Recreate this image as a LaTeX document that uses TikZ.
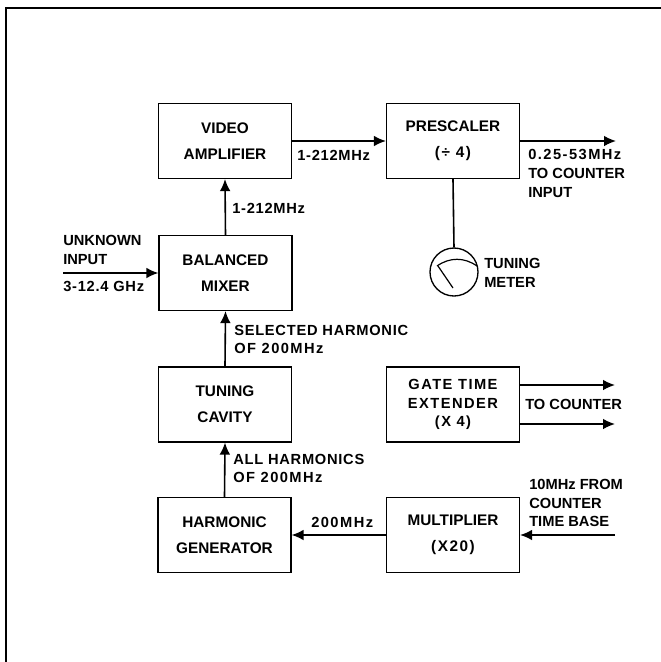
\documentclass[tikz,border=0pt]{standalone}
\usepackage{fontspec}
\setmainfont{Liberation Sans Bold}
\usetikzlibrary{arrows.meta}
\newcommand{\boxfont}{\fontsize{11.5}{19.5}\selectfont}
\newcommand{\labelfont}{\fontsize{11}{14}\selectfont}
\newcommand{\midfont}{\addfontfeature{LetterSpace=5}}
\newcommand{\widefont}{\addfontfeature{LetterSpace=10}}

\begin{document}
\begin{tikzpicture}[x=0.75pt, y=-0.75pt,
    block/.style={draw, line width=1.1pt, minimum width=99.5pt, minimum height=56pt, inner sep=0pt, align=center, font=\boxfont},
    note/.style={anchor=west, inner sep=0pt, align=left, font=\labelfont},
    signal/.style={line width=1.2pt, -{Latex[length=9pt, width=8pt]}}
]
  \useasboundingbox (0,0) rectangle (661,662);

  % Outer frame (only top and left survive)
  \coordinate (frametop) at (661,8);
  \coordinate (framecorner) at (6,8);
  \coordinate (framebottom) at (6,662);
  \draw[line width=1.4pt] (frametop) -- (framecorner) -- (framebottom);

  % Upper row
  \node[block] (video) at (225,141) {VIDEO\\AMPLIFIER};
  \node[block] (prescaler) at (453,141) {PRESCALER\\{\widefont(÷ 4)}};

  % Left column
  \node[block] (mixer) at (225.5,273) {BALANCED\\MIXER};
  \node[block] (cavity) at (225,404.5) {TUNING\\CAVITY};
  \node[block] (harmonic) at (224.5,535) {HARMONIC\\GENERATOR};

  % Right column
  \node[block, font=\labelfont\widefont] (gate) at (453,404.5) {GATE TIME\\EXTENDER\\(X 4)};
  \node[block] (multiplier) at (453,535) {MULTIPLIER\\{\widefont(X20)}};

  % Tuning meter
  \node[draw, circle, line width=1pt, minimum size=36pt, inner sep=0pt] (meter) at (454,272) {};
  \coordinate (needlefoot) at (453,288);
  \coordinate (needletip) at (438,266);
  \draw[line width=0.9pt] (needlefoot) -- (needletip);
  \coordinate (scaleleft) at (437,266);
  \coordinate (scaleright) at (477,266);
  \draw[line width=0.9pt] (scaleleft) to[bend left=35] (scaleright);
  \draw[line width=1.2pt] (prescaler.south) -- (meter.north);

  % Free ends
  \coordinate (unknown) at (63,273);
  \coordinate (countout) at (616,141);
  \coordinate (gateup) at (615,385);
  \coordinate (gatedown) at (615,424);
  \coordinate (timebase) at (615,535);

  % Signal path
  \draw[signal] (unknown) -- (mixer.west);
  \draw[signal] (mixer.north) -- (video.south);
  \draw[signal] (video.east) -- (prescaler.west);
  \draw[signal] (prescaler.east) -- (countout);
  \draw[signal] (cavity.north) -- (mixer.south);
  \draw[signal] (harmonic.north) -- (cavity.south);
  \draw[signal] (multiplier.west) -- (harmonic.east);
  \draw[signal] (timebase) -- (multiplier.east);
  \draw[signal] (gate.east |- gateup) -- (gateup);
  \draw[signal] (gate.east |- gatedown) -- (gatedown);

  % Labels
  \node[note] (unknownlabel) at (63,250) {UNKNOWN\\INPUT};
  \node[note, font=\labelfont\midfont] (rangelabel) at (63,286) {3-12.4 GHz};
  \node[note, font=\labelfont\midfont] (ifupper) at (232,208) {1-212MHz};
  \node[note, font=\labelfont\midfont] (iflower) at (297,155) {1-212MHz};
  \node[note] (outlabel) at (528,173.5) {{\widefont 0.25-53MHz}\\TO COUNTER\\INPUT};
  \node[note] (meterlabel) at (484,273) {\fontsize{11}{19.5}\selectfont TUNING\\METER};
  \node[note, font=\labelfont\midfont] (selectedlabel) at (234,339.5) {SELECTED HARMONIC\\{\widefont OF 200MHz}};
  \node[note, font=\labelfont\midfont] (alllabel) at (233,468.5) {ALL HARMONICS\\{\widefont OF 200MHz}};
  \node[note, font=\labelfont\widefont] (fundlabel) at (311,522) {200MHz};
  \node[note] (gatelabel) at (525,404) {TO COUNTER};
  \node[note] (reflabel) at (529,503) {10MHz FROM\\COUNTER\\TIME BASE};
\end{tikzpicture}
\end{document}
